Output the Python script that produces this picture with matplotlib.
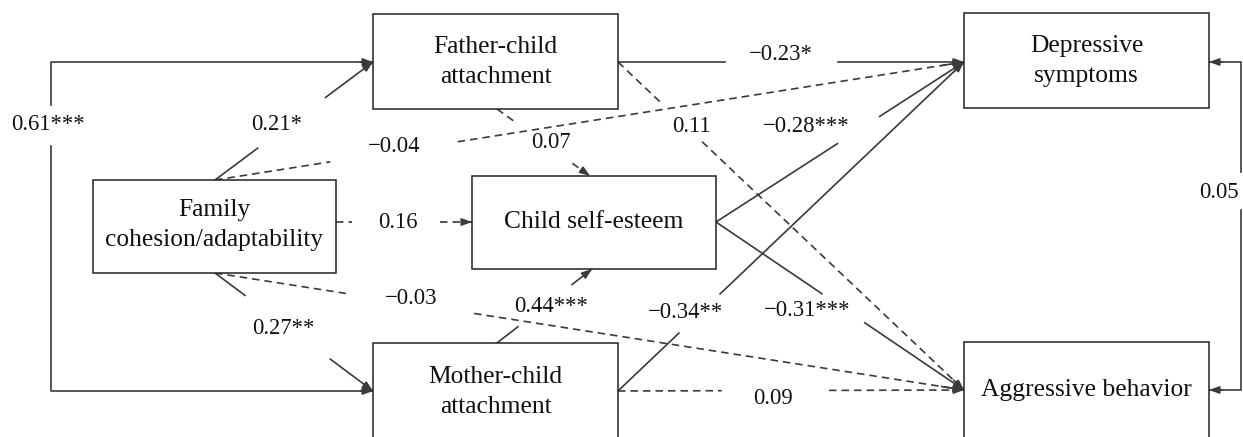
import matplotlib
matplotlib.use("Agg")
import matplotlib.pyplot as plt
from matplotlib.patches import Rectangle

plt.rcParams['font.family'] = ['Liberation Serif', 'DejaVu Serif']

# variables in the model
box_names = ["Father-child\nattachment", "Depressive\nsymptoms", "Family\ncohesion/adaptability",
             "Child self-esteem", "Mother-child\nattachment", "Aggressive behavior"]

# path coefficients (standardized)
path_coefs = ["0.21*", "\u22120.04", "0.16", "\u22120.03", "0.27**", "0.07", "0.11",
              "\u22120.23*", "\u22120.28***", "\u22120.34**", "\u22120.31***", "0.44***", "0.09"]
path_sig = [True, False, False, False, True, False, False, True, True, True, True, True, False]
corr_coefs = ["0.61***", "0.05"]

# layout (pixels, y downward)
box_rects = [(373, 14, 245, 95), (964, 13, 245, 95), (93, 180, 243, 93),
             (472, 176, 244, 93), (373, 343, 245, 100), (964, 342, 245, 100)]
box_text_y = [62, 61, 225, 222, 392, 390]

path_ends = [((215, 180), (373, 62)), ((215, 180), (964, 62)), ((336, 222), (472, 222)),
             ((215, 273), (964, 390)), ((215, 273), (373, 391)), ((497, 109), (590, 176)),
             ((618, 62), (964, 390)), ((618, 62), (964, 62)), ((716, 222), (964, 62)),
             ((618, 391), (964, 62)), ((716, 222), (964, 390)), ((497, 343), (592, 269)),
             ((618, 391), (964, 390))]
path_gaps = [(0.27, 0.70), (0.154, 0.324), (0.118, 0.765), (0.178, 0.346), (0.19, 0.73),
             (0.19, 0.81), (0.13, 0.243), (0.31, 0.636), (0.49, 0.66), (0.176, 0.295),
             (0.427, 0.60), (0.22, 0.79), (0.30, 0.61)]
path_label_xy = [(277, 125), (394, 147), (398, 222), (411, 298), (283, 328), (551, 143),
                 (691, 127), (781, 55), (806, 127), (686, 312), (807, 310), (551, 307),
                 (773, 398)]

LC = "#3a3a3a"
LW = 1.2
DASH = (0, (4.5, 3))


def arrow_head(ax, p_from, p_to):
    ax.annotate("", xy=p_to, xytext=p_from,
                arrowprops=dict(arrowstyle="-|>,head_length=0.6,head_width=0.22",
                                color=LC, lw=LW, shrinkA=0, shrinkB=0))


def point_at(a, b, t):
    return (a[0] + (b[0] - a[0]) * t, a[1] + (b[1] - a[1]) * t)


fig = plt.figure(figsize=(12.43, 4.37), dpi=100)
ax = fig.add_axes([0, 0, 1, 1])
ax.set_xlim(0, 1243)
ax.set_ylim(437, 0)
ax.axis("off")

# boxes
for (x, y, w, h), name, ty in zip(box_rects, box_names, box_text_y):
    ax.add_patch(Rectangle((x, y), w, h, facecolor="white", edgecolor="#222222", lw=1.1, zorder=3))
    ax.text(x + w / 2, ty, name, ha="center", va="center", fontsize=18.4,
            linespacing=1.42, color="#111111", zorder=4)

# directed paths
for (a, b), (t0, t1), lab, sig, (lx, ly) in zip(path_ends, path_gaps, path_coefs, path_sig, path_label_xy):
    ls = "-" if sig else DASH
    g0 = point_at(a, b, t0)
    g1 = point_at(a, b, t1)
    ax.plot([a[0], g0[0]], [a[1], g0[1]], color=LC, lw=LW, linestyle=ls, zorder=2)
    ax.plot([g1[0], b[0]], [g1[1], b[1]], color=LC, lw=LW, linestyle=ls, zorder=2)
    arrow_head(ax, point_at(a, b, 0.97), b)
    ax.text(lx, ly, lab, ha="center", va="center", fontsize=16.3, color="#111111")

# correlation between father and mother attachment
ax.plot([373, 51, 51], [62, 62, 105], color=LC, lw=LW)
ax.plot([51, 51, 373], [146, 391, 391], color=LC, lw=LW)
arrow_head(ax, (360, 62), (373, 62))
arrow_head(ax, (360, 391), (373, 391))
ax.text(48, 125, corr_coefs[0], ha="center", va="center", fontsize=16.3, color="#111111")

# residual correlation between outcomes
ax.plot([1209, 1241, 1241], [62, 62, 172], color=LC, lw=LW)
ax.plot([1241, 1241, 1209], [210, 390, 390], color=LC, lw=LW)
arrow_head(ax, (1222, 62), (1209, 62))
arrow_head(ax, (1222, 390), (1209, 390))
ax.text(1219, 193, corr_coefs[1], ha="center", va="center", fontsize=16.3, color="#111111")

fig.savefig("out.png", dpi=100)
